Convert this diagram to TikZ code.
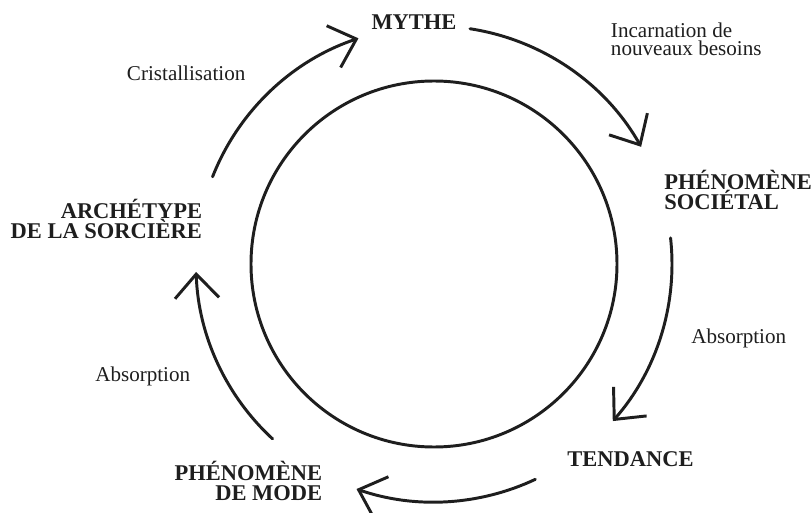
\documentclass[tikz,border=0pt]{standalone}
\usepackage{fontspec}
\setmainfont{Liberation Serif}
\usetikzlibrary{arrows.meta, positioning}
\definecolor{inkdark}{RGB}{30,30,30}

\begin{document}
\begin{tikzpicture}[
    x=0.025cm, y=0.025cm,
    >={Straight Barb[length=6mm, width=11mm]},
    every node/.style={inner sep=0pt, text=inkdark},
    stagenode/.style={font=\fontsize{16}{14}\selectfont\bfseries},
    notenode/.style={font=\fontsize{15}{12.6}\selectfont, align=left},
    cyclearrow/.style={->, draw=inkdark, line width=2.1pt, line cap=round},
]
\useasboundingbox (0,0) rectangle (812,-513);

% === CENTRAL CIRCLE ===
\coordinate (c) at (434,-264);
\draw[inkdark, line width=2.1pt] (c) circle[radius=183];

% === STAGES ===
% (base = last line of a node)
\node[stagenode, anchor=base] (mythe) at (414,-29.3) {MYTHE};
\node[stagenode, anchor=base west, align=left] (societal) at (664,-209.3)
    {PHÉNOMÈNE\\SOCIÉTAL};
\node[stagenode, anchor=base] (tendance) at (630.5,-466.7) {TENDANCE};
\node[stagenode, anchor=base east, align=right] (mode) at (322.5,-500)
    {PHÉNOMÈNE\\DE MODE};
\node[stagenode, anchor=base east, align=right] (archetype) at (202.3,-238.3)
    {ARCHÉTYPE\\DE LA SORCIÈRE};

% === TRANSITION LABELS ===
\node[notenode, anchor=base west] (cristal) at (126.7,-80.7) {Cristallisation};
\node[notenode, anchor=base west] (incarn) at (610.7,-55)
    {Incarnation de\\nouveaux besoins};
\node[notenode, anchor=base west] (absorbA) at (691,-343.3) {Absorption};
\node[notenode, anchor=base west] (absorbB) at (95,-381.7) {Absorption};

% === CYCLE ARROWS ===
\draw[cyclearrow] (c) ++(158.5:238) arc[start angle=158.5, end angle=108.5, radius=238];
\draw[cyclearrow] (c) ++(81.3:238) arc[start angle=81.3, end angle=29.5, radius=238];
\draw[cyclearrow] (c) ++(6.3:238) arc[start angle=6.3, end angle=-41.3, radius=238];
\draw[cyclearrow] (c) ++(-64.8:238) arc[start angle=-64.8, end angle=-109, radius=238];
\draw[cyclearrow] (c) ++(-132.7:238) arc[start angle=-132.7, end angle=-178.1, radius=238];

\end{tikzpicture}
\end{document}
